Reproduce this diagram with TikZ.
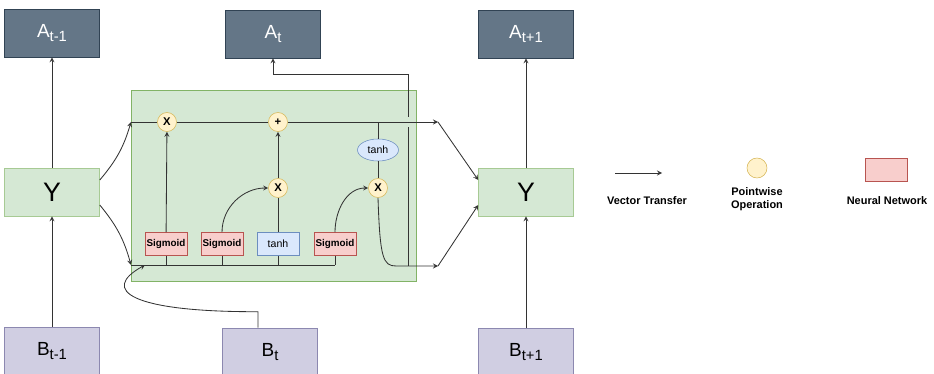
\documentclass[tikz,border=0pt]{standalone}
\usepackage{fontspec}
\setmainfont{Liberation Sans}
\usetikzlibrary{shapes.geometric}
\definecolor{slatefill}{HTML}{647687}
\definecolor{slateline}{HTML}{314354}
\definecolor{greenfill}{HTML}{D5E8D4}
\definecolor{greenline}{HTML}{82B366}
\definecolor{redfill}{HTML}{F8CECC}
\definecolor{redline}{HTML}{B85450}
\definecolor{bluefill}{HTML}{DAE8FC}
\definecolor{blueline}{HTML}{6C8EBF}
\definecolor{yellowfill}{HTML}{FFF2CC}
\definecolor{yellowline}{HTML}{D6B656}
\definecolor{purplefill}{HTML}{D0CEE2}
\definecolor{purpleline}{HTML}{8C88B0}
\newcommand{\lbl}[2]{#1\raisebox{-3pt}{\fontsize{10.5}{10.5}\selectfont #2}}

\begin{document}
\begin{tikzpicture}[x=0.025cm,y=-0.025cm,>=stealth,
	every node/.style={inner sep=0pt},
	flow/.style={draw=black!80,line width=0.6pt},
	outbox/.style={draw=slateline,fill=slatefill,text=white,minimum width=2.375cm,minimum height=1.2cm,font=\fontsize{13.5}{13.5}\selectfont},
	hidbox/.style={draw=greenline!70,fill=greenfill,minimum width=2.375cm,minimum height=1.2cm,font=\fontsize{19}{19}\selectfont},
	inbox/.style={draw=purpleline,fill=purplefill,minimum width=2.375cm,minimum height=1.2cm,font=\fontsize{13.5}{13.5}\selectfont},
	gate/.style={draw=redline,fill=redfill,minimum width=1.05cm,minimum height=0.575cm,font=\bfseries\fontsize{7}{8}\selectfont},
	squash/.style={draw=blueline,fill=bluefill,minimum width=1.05cm,minimum height=0.575cm,font=\fontsize{7.5}{8}\selectfont},
	op/.style={circle,draw=yellowline,fill=yellowfill,minimum size=0.475cm,font=\bfseries\fontsize{8}{8}\selectfont},
	legend/.style={font=\bfseries\fontsize{7.8}{8.8}\selectfont,align=center}]
	\useasboundingbox (0,0) rectangle (934,374);
	% cell body
	\draw[draw=greenline,fill=greenfill] (131,90) rectangle (416,281);
	% outputs, states, inputs
	\node[outbox] (a1) at (52,33) {\lbl{A}{t-1}};
	\node[outbox] (a2) at (273,34) {\lbl{A}{t}};
	\node[outbox] (a3) at (526,34) {\lbl{A}{t+1}};
	\node[hidbox] (y1) at (52,192) {Y};
	\node[hidbox] (y3) at (526,192) {Y};
	\node[inbox] (b1) at (52,351) {\lbl{B}{t-1}};
	\node[inbox] (b2) at (270,352) {\lbl{B}{t}};
	\node[inbox] (b3) at (526,352) {\lbl{B}{t+1}};
	% gates
	\node[gate] (s1) at (166,244) {Sigmoid};
	\node[gate] (s2) at (222,244) {Sigmoid};
	\node[squash] (th1) at (278,244) {tanh};
	\node[gate] (s3) at (335,244) {Sigmoid};
	\node[op] (m1) at (167,122) {X};
	\node[op] (p1) at (278,122) {+};
	\node[op] (m2) at (278,188) {X};
	\node[ellipse,draw=blueline,fill=bluefill,minimum width=1.025cm,minimum height=0.55cm,font=\fontsize{7.5}{8}\selectfont] (th2) at (378,150) {tanh};
	\node[op] (m3) at (378,188) {X};
	\coordinate (cin) at (131,122);
	\coordinate (xin) at (131,265);
	\coordinate (xtap) at (145,265);
	\coordinate (cout) at (438,122);
	\coordinate (hout) at (438,266);
	\coordinate (hsplit) at (408,266);
	\coordinate (hjumpa) at (408,127);
	\coordinate (hjumpb) at (408,117);
	\coordinate (hup) at (408,74);
	% into the cell
	\draw[flow,->] ([yshift=0.3cm]y1.east) to[bend right=12] (cin);
	\draw[flow,->] ([yshift=-0.325cm]y1.east) to[bend left=12] (xin);
	\draw[flow,->] ([xshift=-0.3cm]b2.north) -- ++(0,-16) .. controls (130,312) and (100,290) .. (xtap);
	% cell line
	\draw[flow] (cin) -- (m1);
	\draw[flow] (m1) -- (p1);
	\draw[flow,->] (p1) -- (cout);
	\draw[flow,->] (cout) -- ([yshift=0.3cm]y3.west);
	% input line
	\draw[flow] (xin) -- (s3.south |- xin);
	\draw[flow] (s1.south) -- (s1.south |- xin);
	\draw[flow] (s2.south) -- (s2.south |- xin);
	\draw[flow] (th1.south) -- (th1.south |- xin);
	\draw[flow] (s3.south) -- (s3.south |- xin);
	\draw[flow,->] (s1) -- (m1);
	\draw[flow,->] (s2.north) to[out=90,in=180] (m2.west);
	\draw[flow] (th1) -- (m2);
	\draw[flow,->] (m2) -- (p1);
	\draw[flow,->] (s3.north) to[out=90,in=180] (m3.west);
	\draw[flow] (th2 |- cin) -- (th2);
	\draw[flow] (th2) -- (m3);
	\draw[flow,->] (m3.south) .. controls (380,258) and (383,266) .. (396,266) -- (hout);
	\draw[flow,->] (hout) -- ([yshift=-0.325cm]y3.west);
	\draw[flow] (hsplit) -- (hjumpa);
	\draw[flow,->] (hjumpb) -- (hup) -| (a2.south);
	% outer arrows
	\draw[flow,->] (b1) -- (y1);
	\draw[flow,->] (y1) -- (a1);
	\draw[flow,->] (b3) -- (y3);
	\draw[flow,->] (y3) -- (a3);
	% legend
	\coordinate (va) at (615,173);
	\coordinate (vb) at (662,173);
	\draw[flow,->] (va) -- (vb);
	\node[legend] (vt) at (647,201) {Vector Transfer};
	\node[op,minimum size=0.5cm] (lop) at (757,168) {};
	\node[legend] (lopt) at (757,199) {Pointwise\\Operation};
	\node[gate] (lnn) at (886,170) {};
	\node[legend] (lnnt) at (887,201) {Neural Network};
\end{tikzpicture}
\end{document}
